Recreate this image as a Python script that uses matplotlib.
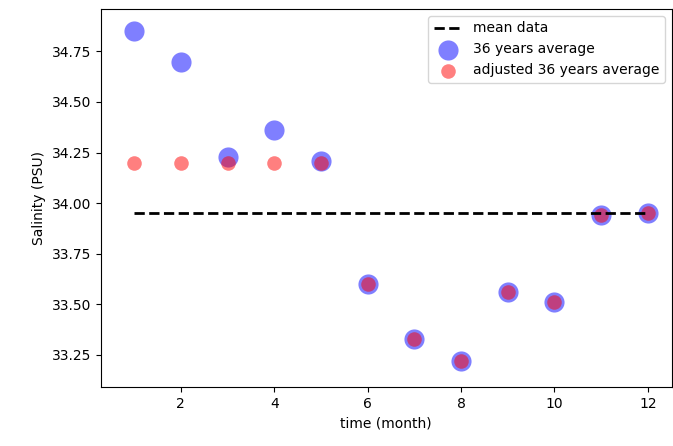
import matplotlib
matplotlib.use("Agg")
import matplotlib.pyplot as plt

# monthly salinity values
months = [1, 2, 3, 4, 5, 6, 7, 8, 9, 10, 11, 12]
avg_36 = [34.85, 34.70, 34.23, 34.36, 34.21, 33.60, 33.33, 33.22, 33.56, 33.51, 33.94, 33.95]
adj_36 = [34.20, 34.20, 34.20, 34.20, 34.20, 33.60, 33.33, 33.22, 33.56, 33.51, 33.94, 33.95]
mean_value = 33.95

fig = plt.figure(figsize=(6.73, 4.46), dpi=100)
ax = fig.add_axes([0.150, 0.132, 0.848, 0.848])

ax.plot([months[0], months[-1]], [mean_value, mean_value], 'k--', lw=2, label='mean data')
ax.scatter(months, avg_36, s=210, color='blue', alpha=0.5, linewidths=0, label='36 years average')
ax.scatter(months, adj_36, s=110, color='red', alpha=0.5, linewidths=0, label='adjusted 36 years average')

ax.set_xlim(0.29, 12.51)
ax.set_ylim(33.09, 34.96)
ax.set_xticks([2, 4, 6, 8, 10, 12])
ax.set_yticks([33.25, 33.5, 33.75, 34.0, 34.25, 34.5, 34.75])
ax.set_xlabel('time (month)')
ax.set_ylabel('Salinity (PSU)')
ax.legend(loc='upper right')

fig.savefig('out.png', dpi=100)
